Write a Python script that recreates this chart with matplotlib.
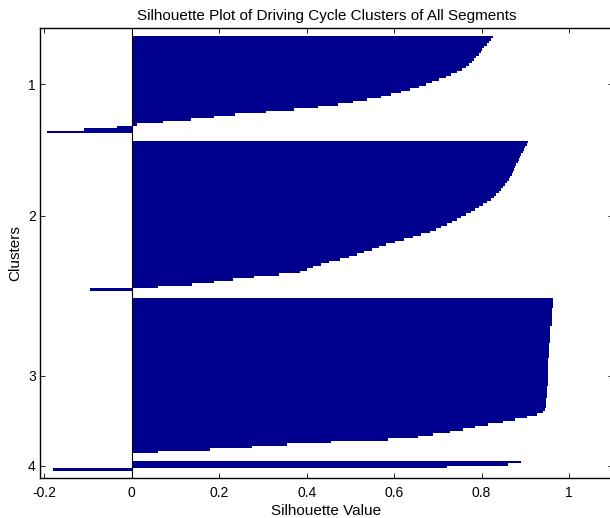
import numpy as np
import matplotlib
matplotlib.use("Agg")
import matplotlib.pyplot as plt

plt.rcParams['font.family'] = ['Liberation Sans', 'DejaVu Sans']

# sorted silhouette values of each cluster (top to bottom)
cluster1 = [0.825, 0.822, 0.818, 0.813, 0.806, 0.801, 0.798, 0.794, 0.788, 0.783,
            0.777, 0.771, 0.765, 0.756, 0.744, 0.730, 0.718, 0.702, 0.687, 0.673,
            0.656, 0.636, 0.616, 0.593, 0.569, 0.539, 0.505, 0.471, 0.425, 0.371,
            0.306, 0.236, 0.188, 0.135, 0.071, 0.011, -0.035, -0.110, -0.195]
cluster2 = [0.907, 0.903, 0.900, 0.897, 0.894, 0.891, 0.889, 0.886, 0.883, 0.879,
            0.877, 0.875, 0.872, 0.869, 0.866, 0.862, 0.858, 0.854, 0.850, 0.845,
            0.840, 0.834, 0.828, 0.821, 0.813, 0.804, 0.795, 0.785, 0.775, 0.765,
            0.754, 0.743, 0.732, 0.720, 0.707, 0.695, 0.681, 0.662, 0.643, 0.623,
            0.602, 0.582, 0.565, 0.549, 0.532, 0.514, 0.497, 0.476, 0.452, 0.432,
            0.414, 0.400, 0.385, 0.337, 0.280, 0.232, 0.188, 0.137, 0.060, -0.095]
cluster3 = [0.963, 0.963, 0.963, 0.963, 0.962, 0.962, 0.962, 0.962, 0.962, 0.961,
            0.961, 0.957, 0.957, 0.957, 0.956, 0.956, 0.956, 0.956, 0.955, 0.955,
            0.955, 0.954, 0.954, 0.954, 0.953, 0.953, 0.953, 0.952, 0.952, 0.952,
            0.952, 0.951, 0.951, 0.951, 0.951, 0.950, 0.950, 0.949, 0.949, 0.949,
            0.948, 0.948, 0.947, 0.947, 0.946, 0.941, 0.926, 0.905, 0.877, 0.848,
            0.815, 0.786, 0.757, 0.727, 0.688, 0.655, 0.585, 0.456, 0.355, 0.275,
            0.178, 0.060]
cluster4 = [0.891, 0.860, 0.720, -0.180]

clusters = [cluster1, cluster2, cluster3, cluster4]
cluster_names = ['1', '2', '3', '4']
space = 3

fig = plt.figure(figsize=(6.1, 5.18), dpi=100)
ax = fig.add_axes([40 / 610, 40 / 518, 572.75 / 610, 450 / 518])

pos = space
tcks = []
for vals in clusters:
    y = pos + np.arange(len(vals))
    ax.barh(y, vals, height=1.0, color='#00008F', linewidth=0)
    tcks.append(y.mean())
    pos += len(vals) + space

ax.axvline(0, color='black', lw=0.8)

ax.set_xlim(-0.21, 1.1)
ax.set_ylim(pos - 0.5, -0.5)
ax.set_xticks([-0.2, 0, 0.2, 0.4, 0.6, 0.8, 1])
ax.set_xticklabels(['-0.2', '0', '0.2', '0.4', '0.6', '0.8', '1'])
ax.set_yticks(tcks)
ax.set_yticklabels(cluster_names)
ax.tick_params(direction='in', length=3.6, width=0.6, top=True, right=True,
               labelsize=10)
ax.tick_params(axis='x', pad=5.5)
ax.tick_params(axis='y', pad=3)
for s in ax.spines.values():
    s.set_linewidth(1.0)

ax.set_xlabel('Silhouette Value', fontsize=11, labelpad=3)
ax.set_ylabel('Clusters', fontsize=11, labelpad=4)
ax.set_title('Silhouette Plot of Driving Cycle Clusters of All Segments',
             fontsize=11, pad=6)

fig.savefig('out.png', dpi=100)
